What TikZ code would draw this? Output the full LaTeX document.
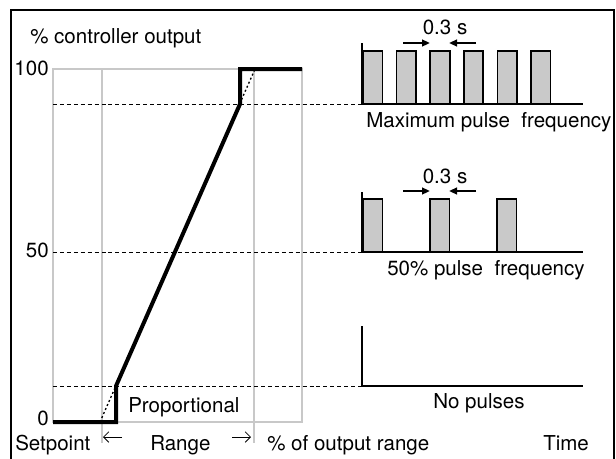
\documentclass[tikz,border=0pt]{standalone}
\usepackage{fontspec}
\setmainfont{TeX Gyre Heros}
\usetikzlibrary{arrows.meta}
\definecolor{GridGray}{RGB}{200,200,200}
\definecolor{PulseGray}{RGB}{201,201,201}

\begin{document}
\begin{tikzpicture}[
    x=0.75pt,
    y=-0.75pt,
    font=\fontsize{15.4}{18}\selectfont,
    txt/.style={
        inner sep=0pt
    },
    grid/.style={
        draw=GridGray,
        line width=1.4pt
    },
    level/.style={
        dash pattern=on 3pt off 2.2pt,
        line width=0.6pt
    },
    curve/.style={
        line width=3pt,
        line join=miter
    },
    pulse/.style={
        draw,
        line width=1.3pt,
        fill=PulseGray
    },
    axis/.style={
        line width=1.5pt
    },
    widtharrow/.style={
        line width=1.5pt,
        -{Triangle[length=6pt,width=5pt]}
    },
    spanarrow/.style={
        line width=0.6pt,
        -{Straight Barb[length=4pt,width=8pt]}
    }
]
\useasboundingbox (0,0) rectangle (616,458);

% frame
\draw[line width=1.5pt] (11,462) -- (11,10) -- (614,10) -- (614,462);

% grid of the chart
\draw[grid] (53,69) rectangle (302,422);
\draw[grid] (102,69) -- (102,443);
\draw[grid] (254,69) -- (254,443);

% output levels
\draw[level] (53,104) -- (362,104);
\draw[level] (53,252) -- (362,252);
\draw[level] (53,386) -- (362,386);

% controller characteristic
\draw[line width=1pt, dash pattern=on 1.5pt off 1.8pt] (100,422) -- (255,69);
\draw[curve] (53,422) -- (116,422) -- (116,386) -- (240,104) -- (240,69) -- (302,69);

% axis labels
\node[txt, anchor=base west] (title) at (30,43) {\% controller output};
\node[txt, anchor=base east] (v100) at (49,75) {100};
\node[txt, anchor=base east] (v50) at (49,257) {50};
\node[txt, anchor=base east] (v0) at (49,425) {0};
\node[txt, anchor=base west] (prop) at (128,412) {Proportional};
\node[txt, anchor=base west] (setp) at (15,450) {Setpoint};
\node[txt, anchor=base west] (range) at (150,450) {Range};
\node[txt, anchor=base west] (outr) at (267,450) {\% of output range};
\node[txt, anchor=base west] (time) at (543,450) {Time};

\draw[spanarrow] (122,437) -- (103,437);
\draw[spanarrow] (232,437) -- (251,437);

% maximum pulse frequency
\draw[axis] (362,43) -- (362,104) -- (583,104);
\foreach \i in {0,...,5}
    \draw[pulse] ({363+33.6*\i},51) rectangle ++(19.5,53);
\draw[widtharrow] (403,43) -- (430,43);
\draw[widtharrow] (476,43) -- (449,43);
\node[txt, anchor=base] (wmax) at (445,34) {0.3 s};
\node[txt, anchor=base west] (lmax) at (366,127) {Maximum pulse\ \ frequency};

% 50% pulse frequency
\draw[axis] (362,192) -- (362,252) -- (583,252);
\foreach \i in {0,1,2}
    \draw[pulse] ({363+67*\i},199) rectangle ++(19.5,53);
\draw[widtharrow] (403,191) -- (430,191);
\draw[widtharrow] (476,191) -- (449,191);
\node[txt, anchor=base] (whalf) at (445,183) {0.3 s};
\node[txt, anchor=base west] (lhalf) at (387,275) {50\% pulse\ \ frequency};

% no pulses
\draw[axis] (362,326) -- (362,386) -- (583,386);
\node[txt, anchor=base west] (lnone) at (433,408) {No pulses};

\end{tikzpicture}
\end{document}
